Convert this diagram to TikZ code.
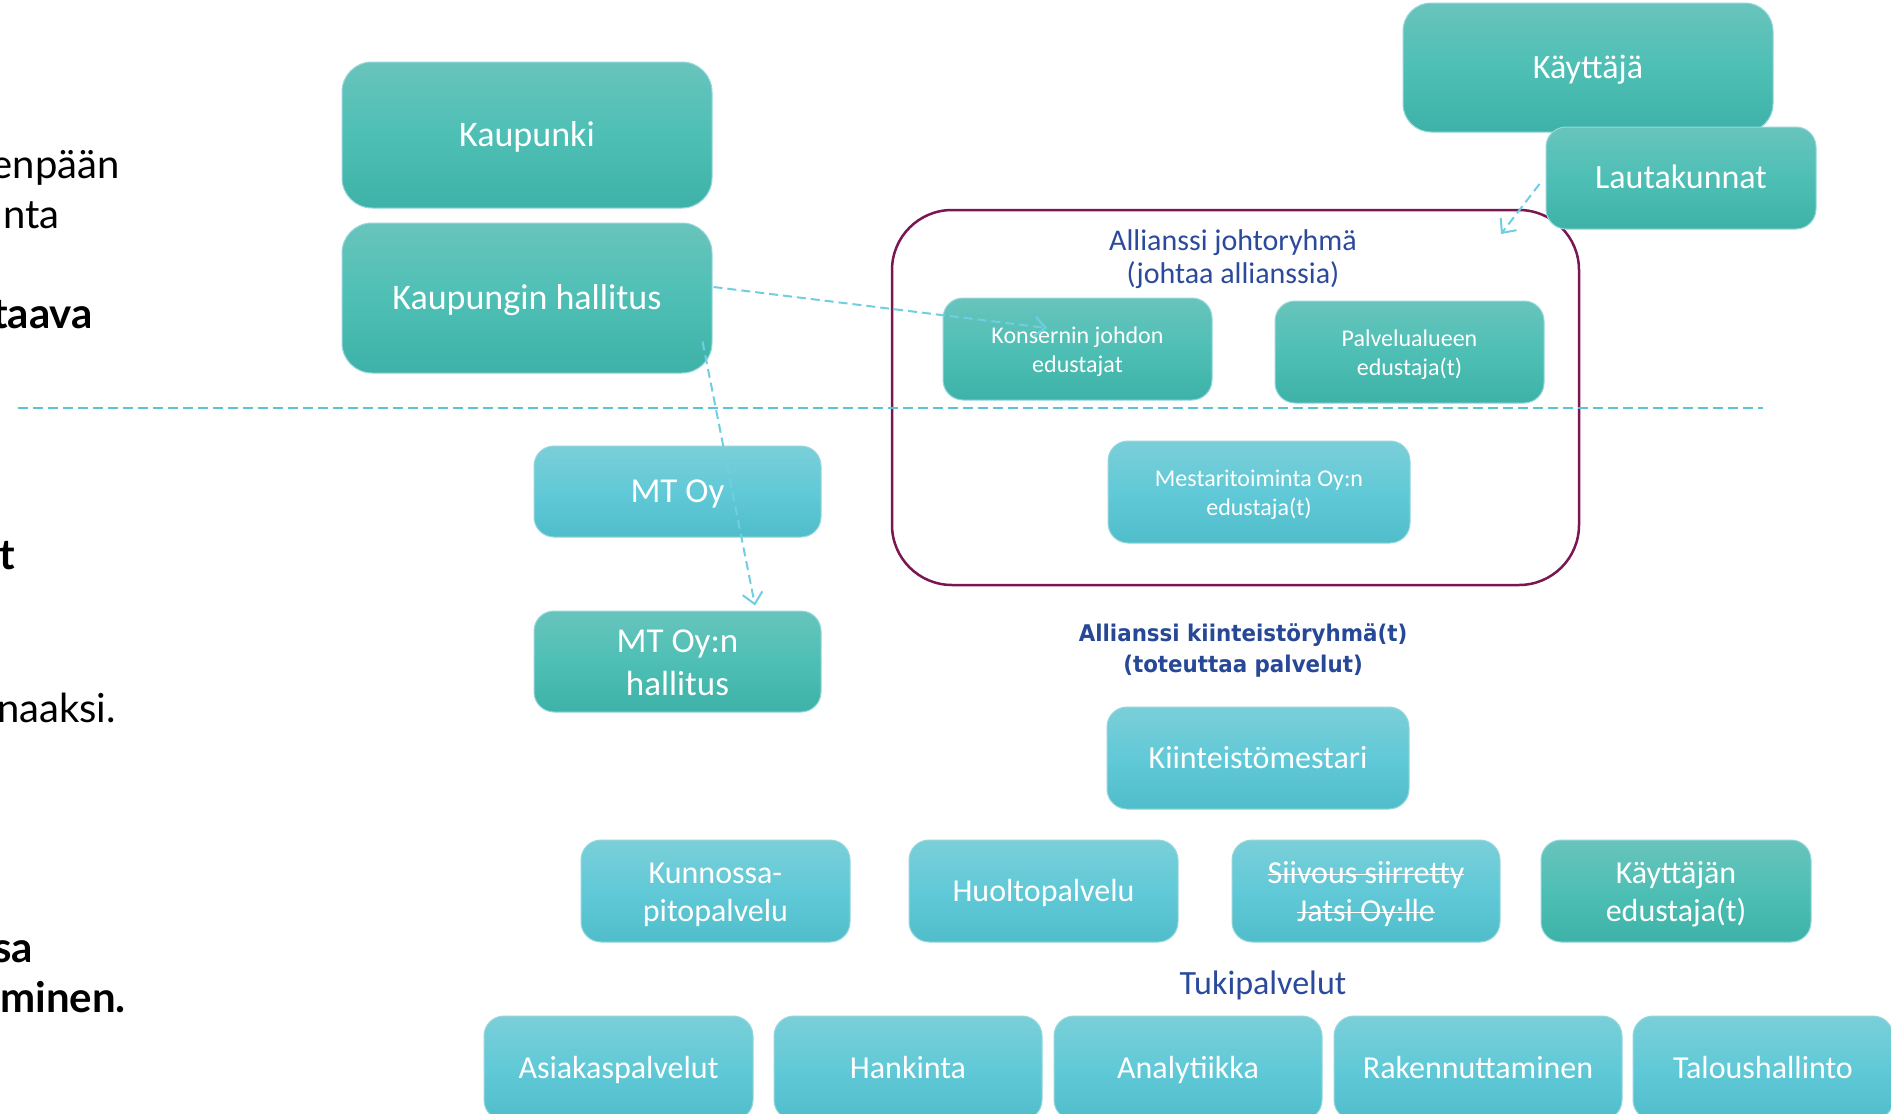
\documentclass[tikz,border=0pt]{standalone}
\usepackage{fontspec}
\setmainfont{Carlito}
\newfontfamily\lato{Lato}
\newfontfamily\hdfont[FakeStretch=0.93]{DejaVu Sans}
\newsavebox\strkbox
\newcommand\strk[1]{\sbox\strkbox{#1}\rlap{\rule[0.24em]{\wd\strkbox}{1.6pt}}\usebox\strkbox}
\newcommand\ml[2]{\raisebox{-#1}[\height][\depth]{\begin{tabular}{@{}c@{}}#2\end{tabular}}}
\usetikzlibrary{arrows.meta,calc}
\definecolor{tealT}{RGB}{104,196,188}
\definecolor{tealM}{RGB}{78,191,181}
\definecolor{tealB}{RGB}{62,178,168}
\definecolor{cyanT}{RGB}{122,207,216}
\definecolor{cyanM}{RGB}{97,201,215}
\definecolor{cyanB}{RGB}{80,189,203}
\definecolor{boxline}{RGB}{150,215,220}
\definecolor{navy}{RGB}{44,74,155}
\definecolor{navyb}{RGB}{38,72,150}
\definecolor{plum}{RGB}{122,22,82}
\definecolor{dashc}{RGB}{90,196,212}
\definecolor{arrc}{RGB}{112,206,224}
\tikzset{
  basebox/.style={rounded corners=20pt, draw=boxline, line width=1pt, text=white, align=center, inner sep=0pt},
  tealbox/.style={basebox, top color=tealT, bottom color=tealB, middle color=tealM},
  cyanbox/.style={basebox, top color=cyanT, bottom color=cyanB, middle color=cyanM},
  lefttxt/.style={inner sep=0pt, anchor=base east, font=\lato\fontsize{40}{48}\selectfont},
  leftbold/.style={lefttxt, font=\lato\bfseries\fontsize{42}{50}\selectfont},
  dasharrow/.style={draw=arrc, line width=2pt, dash pattern=on 9pt off 5pt, -{Straight Barb[length=11pt,width=20pt,line width=2pt]}},
  dashline/.style={draw=dashc, line width=2pt, dash pattern=on 10pt off 5pt},
  f36/.style={font=\fontsize{36}{44}\selectfont, text height=22.75pt, text depth=0pt},
  f34/.style={font=\fontsize{34}{42}\selectfont, text height=21.5pt, text depth=0pt},
  f35/.style={font=\fontsize{35}{43}\selectfont},
  f35s/.style={font=\fontsize{35}{43}\selectfont, text height=22.1pt, text depth=0pt},
  f32/.style={font=\fontsize{32}{38}\selectfont},
  f32s/.style={font=\fontsize{32}{38}\selectfont, text height=20.2pt, text depth=0pt},
  f24/.style={font=\fontsize{24}{29}\selectfont},
}
\begin{document}
\begin{tikzpicture}[x=1pt,y=-1pt]
\useasboundingbox (0,0) rectangle (1891,1114);
\fill[white] (0,0) rectangle (1891,1114);
\clip (0,0) rectangle (1891,1114);

% left clipped text
\node[lefttxt] (l1) at (120,178) {enpään};
\node[lefttxt] (l2) at (60,228) {nta};
\node[leftbold] (l3) at (93,328) {taava};
\node[leftbold] (l4) at (15,569) {t};
\node[lefttxt] (l5) at (116,722) {naaksi.};
\node[leftbold] (l6) at (33,962) {sa};
\node[leftbold] (l7) at (126,1012) {minen.};

% alliance frame
\node[draw=plum, line width=2.5pt, rounded corners=60pt, minimum width=687pt, minimum height=375pt, inner sep=0pt] (frame) at (1235.5,397.5) {};

% divider
\coordinate (dl) at (18,408);
\coordinate (dr) at (1763,408);
\draw[dashline] (dl) -- (dr);

% top-left
\node[tealbox, f36, minimum width=370pt, minimum height=146pt, rounded corners=30pt] (kaup) at (527,135) {Kaupunki};
\node[tealbox, f36, minimum width=370pt, minimum height=150pt, rounded corners=30pt] (kh) at (527,298) {Kaupungin hallitus};

% top-right
\node[tealbox, f34, minimum width=370pt, minimum height=129pt, rounded corners=28pt] (kay) at (1588,67.5) {Käyttäjä};
\node[tealbox, f34, minimum width=270pt, minimum height=102pt] (lauta) at (1681,178) {Lautakunnat};

% inside frame
\node[text=navy, inner sep=0pt, font=\fontsize{30}{33}\selectfont] (title) at (1233,257) {\ml{2.9pt}{Allianssi johtoryhmä\\(johtaa allianssia)}};
\node[tealbox, f24, minimum width=269pt, minimum height=102pt] (kons) at (1077.5,349) {\ml{2.8pt}{Konsernin johdon\\edustajat}};
\node[tealbox, f24, minimum width=269pt, minimum height=102pt] (palv) at (1409.5,352) {\ml{2.8pt}{Palvelualueen\\edustaja(t)}};
\node[cyanbox, f24, minimum width=302pt, minimum height=102pt] (mest) at (1259,492) {\ml{2.8pt}{Mestaritoiminta Oy:n\\edustaja(t)}};

% MT Oy
\node[cyanbox, f35s, minimum width=287pt, minimum height=91pt] (mtoy) at (677.5,491.5) {MT Oy};
\node[tealbox, f35, minimum width=287pt, minimum height=101pt] (mth) at (677.5,661.5) {\ml{3.4pt}{MT Oy:n\\hallitus}};

% kiinteistoryhma
\node[text=navyb, inner sep=0pt, font=\hdfont\bfseries\fontsize{23}{31}\selectfont] (head2) at (1243,649) {\ml{2.2pt}{Allianssi kiinteistöryhmä(t)\\(toteuttaa palvelut)}};
\node[cyanbox, f32s, minimum width=302pt, minimum height=102pt] (kmest) at (1258,758) {Kiinteistömestari};

\node[cyanbox, f32, minimum width=269pt, minimum height=102pt] (kunn) at (715.5,891) {\ml{3.5pt}{Kunnossa-\\pitopalvelu}};
\node[cyanbox, f32s, minimum width=269pt, minimum height=102pt] (huolto) at (1043.5,891) {Huoltopalvelu};
\node[cyanbox, f32, minimum width=268pt, minimum height=102pt] (siiv) at (1366,891) {\ml{3.5pt}{\strk{Siivous siirretty}\\\strk{Jatsi Oy:lle}}};
\node[tealbox, f32, minimum width=270pt, minimum height=102pt] (kedu) at (1676,891) {\ml{3.5pt}{Käyttäjän\\edustaja(t)}};

\node[text=navy, inner sep=0pt, font=\fontsize{34}{40}\selectfont, text height=21.5pt, text depth=0pt] (tuki) at (1263,984) {Tukipalvelut};

% bottom row
\node[cyanbox, f32s, minimum width=269pt, minimum height=104pt] (asiak) at (618.5,1068) {Asiakaspalvelut};
\node[cyanbox, f32s, minimum width=268pt, minimum height=104pt] (hank) at (908,1068) {Hankinta};
\node[cyanbox, f32s, minimum width=268pt, minimum height=104pt] (analyt) at (1188,1068) {Analytiikka};
\node[cyanbox, f32s, minimum width=288pt, minimum height=104pt] (raken) at (1478,1068) {Rakennuttaminen};
\node[cyanbox, f32s, minimum width=260pt, minimum height=104pt] (talous) at (1763,1068) {Taloushallinto};

% connectors
\coordinate (k1) at (1047,328);
\draw[dasharrow] ($(kh.east)+(1,-11)$) -- (k1);
\coordinate (m1) at ($(mth.north)+(77.5,-5)$);
\draw[dasharrow] ($(kh.south east)+(-10,-32)$) -- (m1);
\coordinate (f1) at (1501,234);
\draw[dasharrow] ($(lauta.west)+(-6,6)$) -- (f1);
\end{tikzpicture}
\end{document}
